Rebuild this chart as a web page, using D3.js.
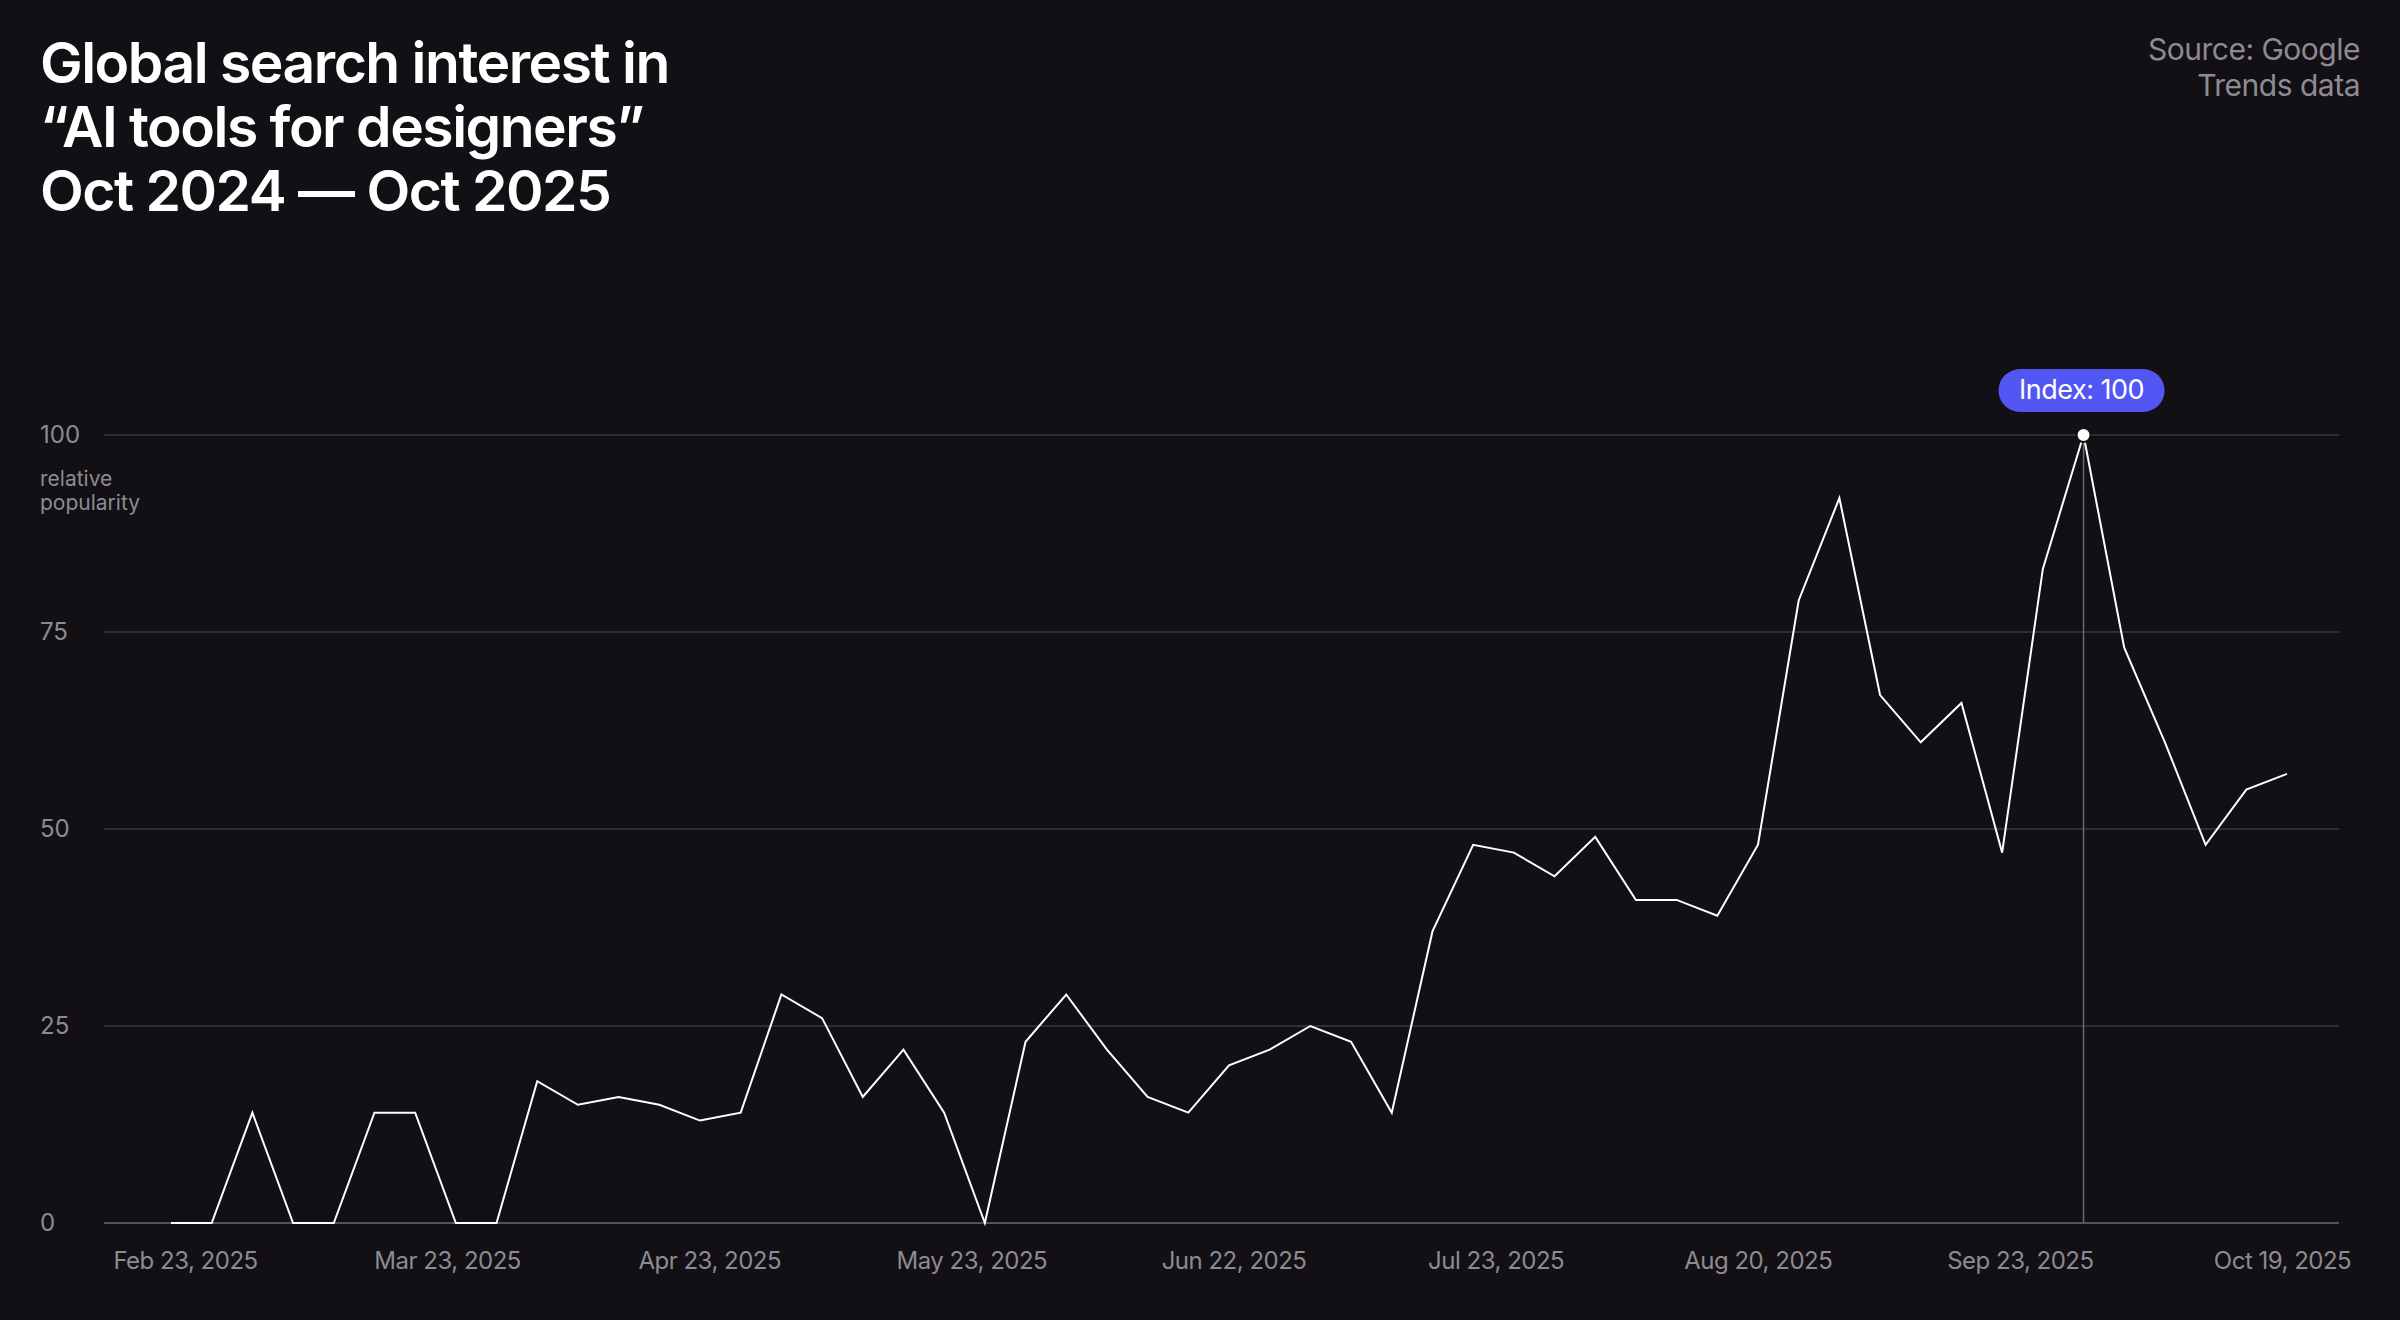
<!DOCTYPE html>
<html><head><meta charset="utf-8">
<script src="https://cdn.jsdelivr.net/npm/d3@7"></script>
<style>
html,body{margin:0;padding:0;background:#121014;}
svg{display:block;font-family:Inter,"Noto Sans",sans-serif;}
</style></head>
<body><svg id="chart"></svg>
<script>
// weekly index values
const values = [0, 0, 14, 0, 0, 14, 14, 0, 0, 18, 15, 16, 15, 13, 14, 29, 26, 16, 22, 14, 0,
  23, 29, 22, 16, 14, 20, 22, 25, 23, 14, 37, 48, 47, 44, 49, 41, 41, 39, 48, 79, 92,
  67, 61, 66, 47, 83, 100, 73, 61, 48, 55, 57];
const xLabels = ["Feb 23, 2025", "Mar 23, 2025", "Apr 23, 2025", "May 23, 2025", "Jun 22, 2025",
  "Jul 23, 2025", "Aug 20, 2025", "Sep 23, 2025", "Oct 19, 2025"];
const yTicks = [0, 25, 50, 75, 100];
const titleLines = ["Global search interest in", "\u201cAI tools for designers\u201d", "Oct 2024 \u2014 Oct 2025"];
const sourceLines = ["Source: Google", "Trends data"];

const W = 2400, H = 1320;
const svg = d3.select('#chart').attr('width', W).attr('height', H);
svg.append('rect').attr('width', W).attr('height', H).attr('fill', '#121014');

const x = d3.scaleLinear().domain([0, values.length - 1]).range([171, 2287]);
const y = d3.scaleLinear().domain([0, 100]).range([1223, 435]);
const xl = d3.scalePoint().domain(xLabels).range([185, 2282]);

svg.append('g').selectAll('text').data(titleLines).join('text')
  .attr('x', 40).attr('y', (d, i) => 83 + i * 64)
  .attr('fill', '#fff').attr('font-size', 57).attr('font-weight', 600)
  .attr('letter-spacing', -1.5).text(d => d);

svg.append('g').selectAll('text').data(sourceLines).join('text')
  .attr('x', 2360).attr('y', (d, i) => 60 + i * 36).attr('text-anchor', 'end')
  .attr('fill', '#8d8b90').attr('font-size', 30).attr('letter-spacing', -0.5).text(d => d);

// grid + y labels
const yAxis = d3.axisLeft(y).tickValues(yTicks).tickSize(-(2339 - 104)).tickPadding(0);
const gy = svg.append('g').attr('transform', 'translate(2339,0)');
svg.append('g').selectAll('line').data(yTicks).join('line')
  .attr('x1', 104).attr('x2', 2339).attr('y1', d => y(d)).attr('y2', d => y(d))
  .attr('stroke', d => d === 0 ? '#6a686c' : '#3a383c').attr('stroke-width', 1.5);
svg.append('g').selectAll('text').data(yTicks).join('text')
  .attr('x', 40).attr('y', d => y(d) + 8).attr('fill', '#8d8b90').attr('font-size', 24).text(d => d);
svg.append('g').selectAll('text').data(["relative", "popularity"]).join('text')
  .attr('x', 40).attr('y', (d, i) => 486 + i * 24).attr('fill', '#8d8b90').attr('font-size', 21).text(d => d);

// x labels
const xAxis = d3.axisBottom(xl).tickSize(0).tickPadding(0);
const gx = svg.append('g').attr('transform', 'translate(0,1252)').call(xAxis);
gx.select('.domain').remove();
gx.selectAll('text').attr('fill', '#8d8b90').attr('font-size', 24)
  .attr('font-family', 'Inter,"Noto Sans",sans-serif').attr('letter-spacing', -0.5);

// peak marker
const peak = values.indexOf(d3.max(values));
svg.append('line').attr('x1', x(peak)).attr('x2', x(peak)).attr('y1', y(100)).attr('y2', y(0))
  .attr('stroke', '#6a686c').attr('stroke-width', 1.5);

svg.append('path').datum(values)
  .attr('d', d3.line().x((d, i) => x(i)).y(d => y(d)))
  .attr('fill', 'none').attr('stroke', '#fff').attr('stroke-width', 2);

svg.append('circle').attr('cx', x(peak)).attr('cy', y(values[peak])).attr('r', 7)
  .attr('fill', '#fff').attr('stroke', '#121014').attr('stroke-width', 2);

const tip = svg.append('g').attr('transform', `translate(${x(peak) - 2},${y(100) - 45})`);
tip.append('rect').attr('x', -83).attr('y', -21).attr('width', 166).attr('height', 43).attr('rx', 21.5)
  .attr('fill', '#5256f2');
tip.append('text').attr('text-anchor', 'middle').attr('y', 9).attr('fill', '#fff')
  .attr('font-size', 27).attr('letter-spacing', -0.5).text('Index: ' + values[peak]);
</script></body></html>
